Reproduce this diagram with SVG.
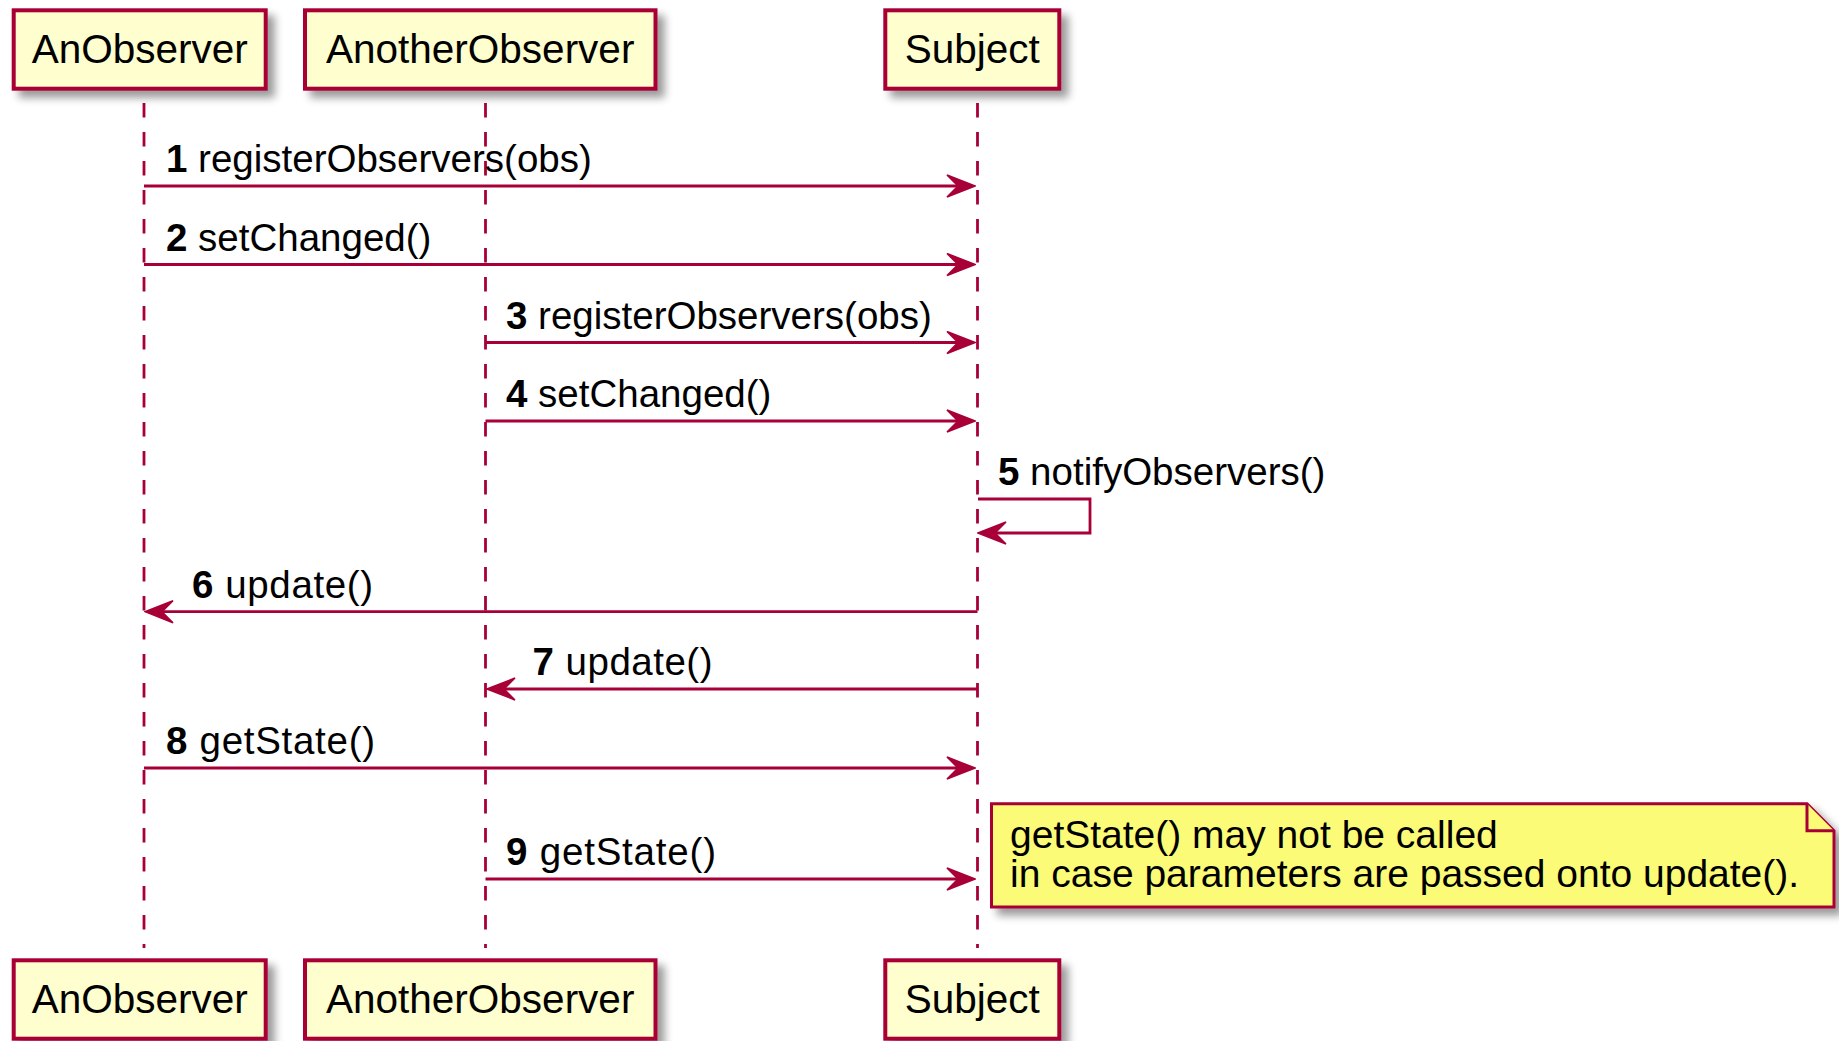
<svg xmlns="http://www.w3.org/2000/svg" width="1839" height="1041" viewBox="0 0 1839 1041">
<style>
.box{fill:#FEFECE;stroke:#A80036;stroke-width:4;filter:url(#sh)}
.pt{font-family:"Liberation Sans",Arial,sans-serif;font-size:40.5px;fill:#000;text-anchor:middle}
.life{stroke:#A80036;stroke-width:2.8;stroke-dasharray:14.5,14.5;fill:none}
.msg{stroke:#A80036;stroke-width:2.8;fill:none;marker-end:url(#ah)}
.lbl{font-family:"Liberation Sans",Arial,sans-serif;font-size:38.5px;fill:#000}
.num{font-weight:bold}
.note{fill:#FBFB77;stroke:#A80036;stroke-width:3;filter:url(#sh)}
.fold{fill:#FBFB77;stroke:#A80036;stroke-width:3}
.nt{font-family:"Liberation Sans",Arial,sans-serif;font-size:39px;fill:#000}
</style>
<defs>
<filter id="sh" x="-10%" y="-20%" width="130%" height="150%">
<feGaussianBlur in="SourceAlpha" stdDeviation="4"/>
<feOffset dx="7" dy="7"/>
<feComponentTransfer><feFuncA type="linear" slope="0.4"/></feComponentTransfer>
<feMerge><feMergeNode/><feMergeNode in="SourceGraphic"/></feMerge>
</filter>
<marker id="ah" viewBox="0 0 30 24" refX="19" refY="12" markerWidth="30" markerHeight="24" orient="auto" markerUnits="userSpaceOnUse">
<polygon points="1,1 29,12 1,23 12,12" fill="#A80036" stroke="#A80036" stroke-width="1.5" stroke-linejoin="miter"/>
</marker>
</defs>
<rect width="1839" height="1041" fill="#FFFFFF"/>

<g id="lifelines">
<line class="life" x1="144" y1="103" x2="144" y2="948"/>
<line class="life" x1="485.5" y1="103" x2="485.5" y2="948"/>
<line class="life" x1="977.5" y1="103" x2="977.5" y2="948"/>
</g>

<g id="AnObserver">
<rect class="box" x="13.7" y="10.3" width="252" height="78.4"/>
<text class="pt" x="139.7" y="63">AnObserver</text>
<rect class="box" x="13.7" y="960.3" width="252" height="78.4"/>
<text class="pt" x="139.7" y="1013">AnObserver</text>
</g>

<g id="AnotherObserver">
<rect class="box" x="305" y="10.3" width="350.5" height="78.4"/>
<text class="pt" x="480.2" y="63">AnotherObserver</text>
<rect class="box" x="305" y="960.3" width="350.5" height="78.4"/>
<text class="pt" x="480.2" y="1013">AnotherObserver</text>
</g>

<g id="Subject">
<rect class="box" x="885.3" y="10.3" width="174" height="78.4"/>
<text class="pt" x="972.3" y="63">Subject</text>
<rect class="box" x="885.3" y="960.3" width="174" height="78.4"/>
<text class="pt" x="972.3" y="1013">Subject</text>
</g>

<g id="connectors">
<line class="msg" x1="144" y1="186" x2="965" y2="186"/>
<text class="lbl" x="166" y="172"><tspan class="num">1</tspan> registerObservers(obs)</text>
<line class="msg" x1="144" y1="264.5" x2="965" y2="264.5"/>
<text class="lbl" x="166" y="250.5"><tspan class="num">2</tspan> setChanged()</text>
<line class="msg" x1="485.5" y1="342.5" x2="965" y2="342.5"/>
<text class="lbl" x="506" y="328.5"><tspan class="num">3</tspan> registerObservers(obs)</text>
<line class="msg" x1="485.5" y1="421" x2="965" y2="421"/>
<text class="lbl" x="506" y="407"><tspan class="num">4</tspan> setChanged()</text>
<path class="msg" d="M978,499 H1090 V533 H988"/>
<text class="lbl" x="998" y="485"><tspan class="num">5</tspan> notifyObservers()</text>
<line class="msg" x1="977.5" y1="611.7" x2="155" y2="611.7"/>
<text class="lbl" x="192" y="597.5" textLength="181" lengthAdjust="spacing"><tspan class="num">6</tspan> update()</text>
<line class="msg" x1="977.5" y1="689" x2="497" y2="689"/>
<text class="lbl" x="532.5" y="675" textLength="180" lengthAdjust="spacing"><tspan class="num">7</tspan> update()</text>
<line class="msg" x1="144" y1="768" x2="965" y2="768"/>
<text class="lbl" x="166" y="754" textLength="209" lengthAdjust="spacing"><tspan class="num">8</tspan> getState()</text>
<line class="msg" x1="485.5" y1="879" x2="965" y2="879"/>
<text class="lbl" x="506" y="865" textLength="210" lengthAdjust="spacing"><tspan class="num">9</tspan> getState()</text>
</g>

<g id="note">
<polygon class="note" points="991.5,803.8 1807,803.8 1834,830.8 1834,907 991.5,907"/>
<path class="fold" d="M1807,803.8 V830.8 H1834"/>
<text class="nt" x="1010" y="848">getState() may not be called</text>
<text class="nt" x="1010" y="887">in case parameters are passed onto update().</text>
</g>
</svg>
